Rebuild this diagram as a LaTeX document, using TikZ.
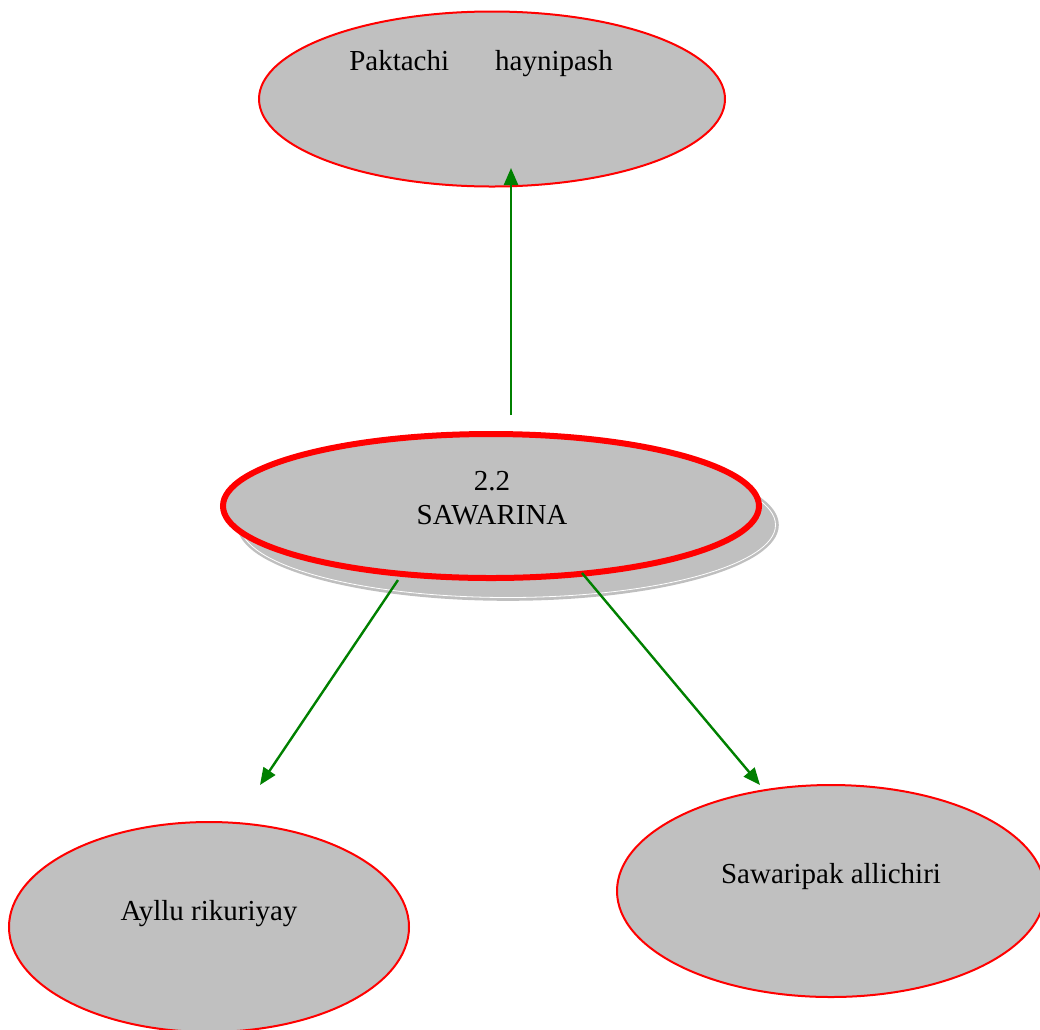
\documentclass[tikz,border=0pt]{standalone}
\usepackage{fontspec}
\setmainfont{Liberation Serif}
\usetikzlibrary{shapes.geometric,arrows.meta}
\definecolor{fillgrey}{HTML}{C0C0C0}
\definecolor{arrowgreen}{HTML}{008000}
\tikzset{
  bubble/.style={ellipse, fill=fillgrey, draw=red, line width=2pt, inner sep=0pt},
  mainbubble/.style={ellipse, fill=fillgrey, draw=red, line width=6pt, inner sep=0pt},
  shadowbubble/.style={ellipse, fill=fillgrey, draw=black!25, line width=1.6pt, inner sep=0pt},
  label text/.style={font=\fontsize{29}{34}\selectfont, align=center, inner sep=0pt},
  flow/.style={draw=arrowgreen, line width=2.4pt, -{Triangle[length=17pt,width=14pt]}}
}
\begin{document}
\begin{tikzpicture}[x=1pt,y=-1pt]
\useasboundingbox (0,0) rectangle (1040,1029);
\clip (0,0) rectangle (1040,1029);
% top ellipse
\node[bubble, minimum width=466pt, minimum height=175pt] (top) at (492,99) {};
\node[label text] (toptext) at (481,64) {Paktachi\hspace{46pt}haynipash};
% main ellipse with shadow
\node[shadowbubble, minimum width=540pt, minimum height=150pt] (shadow) at (508,525) {};
\node[ellipse, draw=white, line width=0.8pt, minimum width=535pt, minimum height=145pt, inner sep=0pt] (shadowline) at (508,525) {};
\node[mainbubble, minimum width=536pt, minimum height=144pt] (main) at (491,506) {};
\node[label text] (maintext) at (492,498) {2.2\\SAWARINA};
% bottom left
\node[bubble, minimum width=400pt, minimum height=210pt] (left) at (209,927) {};
\node[label text] (lefttext) at (209,914) {Ayllu rikuriyay};
% bottom right
\node[bubble, minimum width=428pt, minimum height=212pt] (right) at (831,891) {};
\node[label text] (righttext) at (831,877) {Sawaripak allichiri};
% connector ends
\coordinate (upstart) at (511,415);
\coordinate (uptip) at (511,168);
\coordinate (lstart) at (398,580);
\coordinate (ltip) at (260,785);
\coordinate (rstart) at (582,573);
\coordinate (rtip) at (760,785);
\draw[flow] (upstart) -- (uptip);
\draw[flow] (lstart) -- (ltip);
\draw[flow] (rstart) -- (rtip);
\end{tikzpicture}
\end{document}
